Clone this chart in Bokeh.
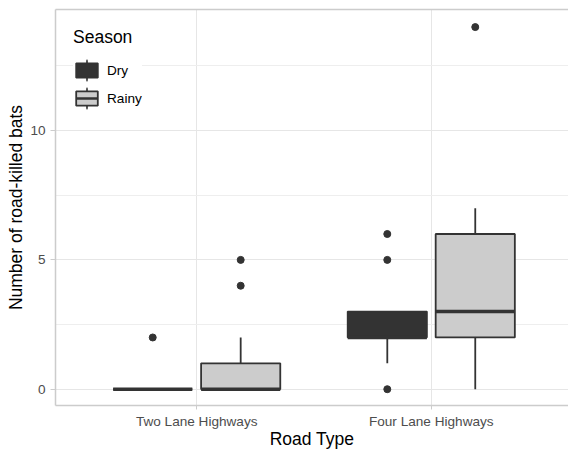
import numpy as np
from bokeh.plotting import figure
from bokeh.models import (ColumnDataSource, Range1d, FixedTicker, LinearAxis,
                          Legend, LegendItem)
from bokeh.transform import dodge
from bokeh.embed import file_html
from bokeh.resources import INLINE

# ---------------- data ----------------
road_types = ["Two Lane Highways", "Four Lane Highways"]
seasons = ["Dry", "Rainy"]

dry_q1 = [0, 2]
dry_median = [0, 2]
dry_q3 = [0, 3]
dry_lower = [0, 1]
dry_upper = [0, 3]
dry_outliers = [[2], [0, 5, 6]]

rainy_q1 = [0, 2]
rainy_median = [0, 3]
rainy_q3 = [1, 6]
rainy_lower = [0, 0]
rainy_upper = [2, 7]
rainy_outliers = [[4, 5], [14]]

y_ticks = [0, 5, 10]
y_minor = [2.5, 7.5, 12.5]
x_title = "Road Type"
y_title = "Number of road-killed bats"
legend_title = "Season"

# ---------------- style ----------------
FONT = "Liberation Sans"
EDGE = "#333333"
FILLS = {"Dry": "#333333", "Rainy": "#cccccc"}
OFFSETS = {"Dry": -0.1875, "Rainy": 0.1875}
BOX_W = 0.3375
BORDER = "#cccccc"
GRID = "#e6e6e6"
MINOR_GRID = "#eeeeee"

x_pos = list(range(1, len(road_types) + 1))

p = figure(width=568, height=451, output_backend="svg", toolbar_location=None,
           x_range=Range1d(0.398, 2.585), y_range=Range1d(-0.63, 14.68),
           min_border_left=55, min_border_right=0, min_border_top=9,
           min_border_bottom=44)
p.outline_line_color = None
p.background_fill_color = "white"

# grids
p.xgrid.ticker = FixedTicker(ticks=x_pos)
p.xgrid.grid_line_color = GRID
p.xgrid.grid_line_width = 1
p.ygrid.ticker = FixedTicker(ticks=y_ticks, minor_ticks=y_minor)
p.ygrid.grid_line_color = GRID
p.ygrid.grid_line_width = 1
p.ygrid.minor_grid_line_color = MINOR_GRID
p.ygrid.minor_grid_line_width = 1

# axes
for ax in (p.xaxis[0], p.yaxis[0]):
    ax.axis_line_color = BORDER
    ax.axis_line_width = 1.5
    ax.major_tick_line_color = BORDER
    ax.major_tick_line_width = 1
    ax.major_tick_in = 0
    ax.minor_tick_line_color = None
    ax.major_label_text_font = FONT
    ax.major_label_text_font_size = "13.6px"
    ax.major_label_text_color = "#4d4d4d"
    ax.axis_label_text_font = FONT
    ax.axis_label_text_font_size = "17.5px"
    ax.axis_label_text_font_style = "normal"
    ax.axis_label_text_color = "black"

p.xaxis.ticker = FixedTicker(ticks=x_pos)
p.xaxis.major_label_overrides = {i: name for i, name in zip(x_pos, road_types)}
p.xaxis.major_tick_out = 4
p.xaxis.major_label_standoff = 4
p.xaxis.axis_label = x_title
p.xaxis.axis_label_standoff = -3

p.yaxis.ticker = FixedTicker(ticks=y_ticks)
p.yaxis.major_tick_out = 5
p.yaxis.major_label_standoff = 5
p.yaxis.axis_label = y_title
p.yaxis.axis_label_standoff = 1

top_border = LinearAxis(ticker=FixedTicker(ticks=[]), major_label_text_font_size="0px",
                        major_tick_out=0, major_tick_in=0, major_label_standoff=0,
                        minor_tick_line_color=None, axis_line_color=BORDER,
                        axis_line_width=1.5)
p.add_layout(top_border, "above")

stats = {
    "Dry": (dry_q1, dry_median, dry_q3, dry_lower, dry_upper, dry_outliers),
    "Rainy": (rainy_q1, rainy_median, rainy_q3, rainy_lower, rainy_upper, rainy_outliers),
}

box_renderers = {}
for s in seasons:
    q1, med, q3, lo, up, outl = stats[s]
    off = OFFSETS[s]
    src = ColumnDataSource(dict(x=x_pos, q1=q1, med=med, q3=q3, lo=lo, up=up))
    xc = dodge("x", off, range=p.x_range)
    # whiskers
    p.segment(x0=xc, y0="q3", x1=xc, y1="up", source=src, line_color=EDGE, line_width=1.8)
    p.segment(x0=xc, y0="q1", x1=xc, y1="lo", source=src, line_color=EDGE, line_width=1.8)
    # boxes
    box_renderers[s] = p.vbar(x=xc, width=BOX_W, top="q3", bottom="q1", source=src,
                              fill_color=FILLS[s], line_color=EDGE, line_width=1.8)
    # medians
    p.segment(x0=dodge("x", off - BOX_W / 2, range=p.x_range), y0="med",
              x1=dodge("x", off + BOX_W / 2, range=p.x_range), y1="med",
              source=src, line_color=EDGE, line_width=3.5, line_cap="butt")
    # outliers
    ox, oy = [], []
    for xp, vals in zip(x_pos, outl):
        for v in vals:
            ox.append(xp)
            oy.append(v)
    osrc = ColumnDataSource(dict(x=ox, y=oy))
    p.scatter(x=dodge("x", off, range=p.x_range), y="y", source=osrc, size=7,
              fill_color=EDGE, line_color=EDGE)

# legend-only glyphs (no visible marks in the plot)
whisker_key = p.ellipse(x=[np.nan], y=[np.nan], width=1.5, height=23,
                        width_units="screen", height_units="screen",
                        fill_color=EDGE, line_color=EDGE, line_width=0.8)
median_key = p.segment(x0=[np.nan], y0=[np.nan], x1=[np.nan], y1=[np.nan],
                       line_color=EDGE, line_width=2.5, line_dash="0 3 21 100",
                       line_cap="butt")

common = dict(location="top_left", margin=18, padding=7, title=legend_title,
              title_text_font=FONT, title_text_font_size="17.5px",
              title_text_font_style="normal", label_text_font=FONT,
              label_text_font_size="13.6px", glyph_width=27, label_standoff=7,
              border_line_color=None)

leg_a = Legend(items=[LegendItem(label=s, renderers=[whisker_key]) for s in seasons],
               glyph_height=28, spacing=0, label_height=28, title_standoff=8,
               title_text_alpha=0, label_text_alpha=0,
               background_fill_color="white", background_fill_alpha=1, **common)
leg_b = Legend(items=[LegendItem(label="Dry", renderers=[box_renderers["Dry"]]),
                      LegendItem(label="Rainy", renderers=[box_renderers["Rainy"], median_key])],
               glyph_height=18, spacing=10, label_height=18, title_standoff=13,
               title_text_color="black", label_text_color="black",
               background_fill_alpha=0, **common)
p.add_layout(leg_a)
p.add_layout(leg_b)

open("out.html", "w").write(file_html(p, INLINE))
